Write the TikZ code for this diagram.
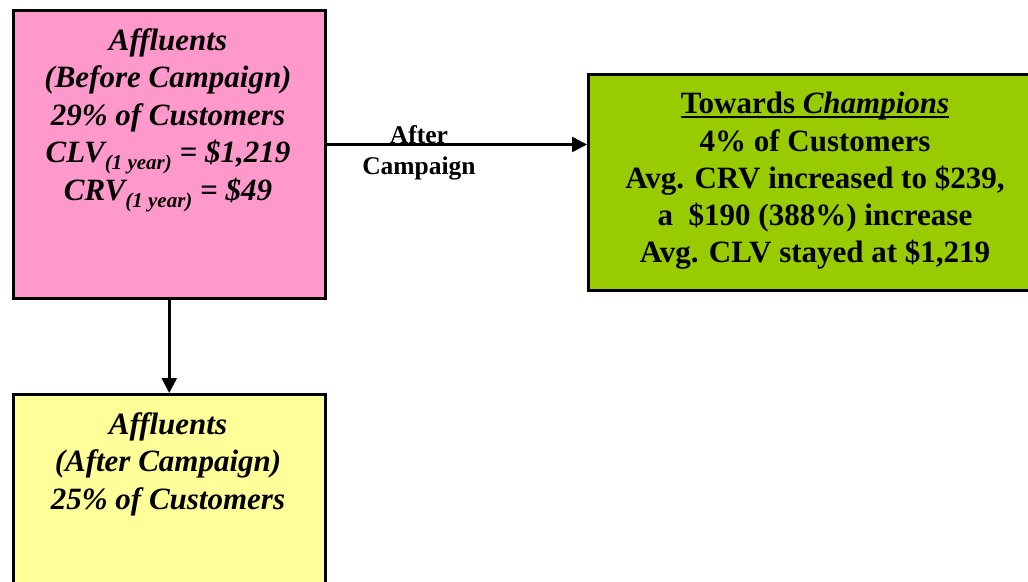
\documentclass[tikz,border=0pt]{standalone}
\usepackage{fontspec}
\setmainfont{Liberation Serif}
\usetikzlibrary{arrows.meta}
\definecolor{pinkfill}{HTML}{FF99CC}
\definecolor{greenfill}{HTML}{99CC00}
\definecolor{yellowfill}{HTML}{FFFF99}
\newcommand{\lowsub}[1]{\raisebox{-7pt}{\fontsize{21}{21}\selectfont #1}}
\newsavebox{\myulbox}
\newcommand{\myul}[1]{\sbox{\myulbox}{#1}\rlap{\rule[-4pt]{\wd\myulbox}{2pt}}\usebox{\myulbox}}
\begin{document}
\begin{tikzpicture}[x=1pt,y=-1pt,
  box/.style={draw=black, line width=2.5pt, inner sep=0pt},
  conn/.style={line width=2.5pt, -{Triangle[length=15pt,width=15pt]}},
  ptxt/.style={align=center, inner sep=0pt, font={\fontsize{31}{37.5}\selectfont\bfseries\itshape}},
  gtxt/.style={align=center, inner sep=0pt, font={\fontsize{31}{37.3}\selectfont\bfseries}},
  ltxt/.style={align=center, inner sep=0pt, font={\fontsize{25.5}{31}\selectfont\bfseries}}]
\useasboundingbox (0,0) rectangle (1028,581);
\fill[white] (0,0) rectangle (1028,581);
\node[box, fill=pinkfill, minimum width=312pt, minimum height=288pt, anchor=north west] (before) at (12,9) {};
\node[box, fill=yellowfill, minimum width=312pt, minimum height=200pt, anchor=north west] (after) at (12,393) {};
\node[box, fill=greenfill, minimum width=456pt, minimum height=216pt, anchor=north west] (champ) at (587,73) {};
\node[ptxt, anchor=north] (beforetxt) at (168,28) {Affluents\\(Before Campaign)\\29\% of Customers\\CLV\lowsub{(1 year)} = \$1,219\\CRV\lowsub{(1 year)} = \$49};
\node[ptxt, anchor=north] (aftertxt) at (168,412) {Affluents\\(After Campaign)\\25\% of Customers};
\node[gtxt, anchor=north] (champtxt) at (815,92) {\myul{Towards \textit{Champions}}\\4\% of Customers\\Avg. CRV increased to \$239,\\a\ \ \$190 (388\%) increase\\Avg. CLV stayed at \$1,219};
\coordinate (hstart) at (324,144.5);
\draw[conn] (hstart) -- (hstart -| champ.west);
\node[ltxt, anchor=north] (lbl) at (419,125) {After\\Campaign};
\draw[conn] (before.south) -- (after.north);
\end{tikzpicture}
\end{document}
